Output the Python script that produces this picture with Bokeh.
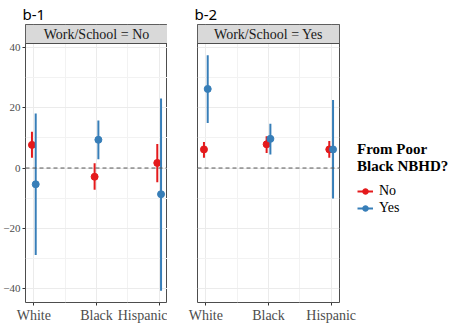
from bokeh.plotting import figure
from bokeh.models import FixedTicker, Span, Legend, LegendItem, Range1d
from bokeh.layouts import row
from bokeh.embed import file_html
from bokeh.resources import INLINE
from bokeh.core.properties import value

categories = ["White", "Black", "Hispanic"]
groups = ["No", "Yes"]
panel_labels = ["Work/School = No", "Work/School = Yes"]
panel_tags = ["b-1", "b-2"]
legend_title = "From Poor\nBlack NBHD?"

# Panel b-1 (Work/School = No)
b1_no_est = [7.7, -2.9, 1.7]
b1_no_lo = [3.4, -7.2, -4.7]
b1_no_hi = [12.1, 1.6, 8.0]
b1_yes_est = [-5.4, 9.4, -8.7]
b1_yes_lo = [-28.9, 2.9, -40.8]
b1_yes_hi = [18.1, 15.8, 23.1]
# Panel b-2 (Work/School = Yes)
b2_no_est = [6.2, 7.9, 6.2]
b2_no_lo = [3.4, 5.0, 3.4]
b2_no_hi = [8.7, 10.6, 9.0]
b2_yes_est = [26.3, 9.7, 6.2]
b2_yes_lo = [15.0, 4.5, -10.1]
b2_yes_hi = [37.5, 14.7, 22.6]

y_ticks = [-40, -20, 0, 20, 40]
y_minor = [-30, -10, 10, 30]

panels_data = [
    {"No": (b1_no_est, b1_no_lo, b1_no_hi), "Yes": (b1_yes_est, b1_yes_lo, b1_yes_hi)},
    {"No": (b2_no_est, b2_no_lo, b2_no_hi), "Yes": (b2_yes_est, b2_yes_lo, b2_yes_hi)},
]
colors = {"No": "#E41A1C", "Yes": "#377EB8"}
dodge = {"No": -0.03, "Yes": 0.03}

SERIF = "Liberation Serif"
FRAME_W = 142
FRAME_H = 278
STRIP_PX = 19

# ranges from data with 5% expansion
all_vals = []
for pdict in panels_data:
    for g in groups:
        for arr in pdict[g]:
            all_vals += arr
ylo, yhi = min(all_vals), max(all_vals)
ypad = 0.05 * (yhi - ylo)
panel_lo, panel_hi = ylo - ypad, yhi + ypad
units_per_px = (panel_hi - panel_lo) / (FRAME_H - STRIP_PX)
y_end = panel_hi + STRIP_PX * units_per_px

xlo, xhi = 1 + dodge["No"], len(categories) + dodge["Yes"]
xpad = 0.05 * (xhi - xlo)
x_start, x_end = xlo - xpad, xhi + xpad

figs = []
legend_items = []
for i, pdict in enumerate(panels_data):
    p = figure(frame_width=FRAME_W, frame_height=FRAME_H, output_backend="svg",
               toolbar_location=None,
               x_range=Range1d(x_start, x_end), y_range=Range1d(panel_lo, y_end),
               y_axis_location="left" if i == 0 else None,
               min_border_left=21 if i == 0 else 30, min_border_right=0,
               min_border_top=0, min_border_bottom=0)
    p.title.text = panel_tags[i]
    p.title.text_font = "Noto Sans"
    p.title.text_font_size = "15px"
    p.title.text_font_style = "normal"
    p.title.text_color = "#000000"
    p.title.offset = -3
    p.title.standoff = 2
    p.background_fill_color = "white"
    p.border_fill_color = "white"
    p.outline_line_color = "#4D4D4D"
    p.outline_line_width = 1

    p.xgrid.ticker = FixedTicker(ticks=[1, 2, 3], minor_ticks=[1.5, 2.5])
    p.ygrid.ticker = FixedTicker(ticks=y_ticks, minor_ticks=y_minor)
    for gr in (p.xgrid, p.ygrid):
        gr.grid_line_color = "#EBEBEB"
        gr.grid_line_width = 1
        gr.minor_grid_line_color = "#F2F2F2"
        gr.minor_grid_line_width = 1

    p.xaxis.ticker = FixedTicker(ticks=[1, 2, 3])
    p.xaxis.major_label_overrides = {k + 1: c for k, c in enumerate(categories)}
    axes = [p.xaxis[0]] + ([p.yaxis[0]] if i == 0 else [])
    for ax in axes:
        ax.axis_line_color = None
        ax.major_tick_line_color = "#333333"
        ax.major_tick_out = 3
        ax.major_tick_in = 0
        ax.minor_tick_line_color = None
        ax.major_label_text_font = SERIF
        ax.major_label_text_color = "#4D4D4D"
        ax.major_label_standoff = 2
    p.xaxis.major_label_text_font_size = "14px"
    if i == 0:
        p.yaxis.ticker = FixedTicker(ticks=y_ticks)
        p.yaxis.major_label_text_font_size = "11px"

    p.add_layout(Span(location=0, dimension="width", line_color="#555555",
                      line_width=1, line_dash="4 3"))

    for g in groups:
        est, lo, hi = pdict[g]
        xs = [k + 1 + dodge[g] for k in range(len(categories))]
        seg = p.segment(x0=xs, y0=lo, x1=xs, y1=hi, line_color=colors[g], line_width=2)
        sc = p.scatter(x=xs, y=est, size=7, color=colors[g])
        if i == 1:
            legend_items.append(LegendItem(label=g, renderers=[seg, sc]))

    # facet strip
    p.quad(left=[x_start], right=[x_end], bottom=[panel_hi], top=[y_end],
           fill_color="#D9D9D9", line_color="#4D4D4D", line_width=1)
    p.text(x=[(x_start + x_end) / 2], y=[(panel_hi + y_end) / 2], text=[panel_labels[i]],
           text_align="center", text_baseline="middle", text_font=value(SERIF),
           text_font_size="14px", text_font_style="normal", text_color="#1A1A1A")
    figs.append(p)

legend = Legend(items=legend_items, title=legend_title, location=(18, 86),
                title_text_font=SERIF, title_text_font_style="bold",
                title_text_font_size="15px", title_text_color="#000000",
                title_text_line_height=1.25,
                label_text_font=SERIF, label_text_font_size="14px",
                label_text_color="#000000",
                glyph_width=16, glyph_height=14, label_standoff=6, spacing=1,
                padding=0, margin=9, title_standoff=8,
                border_line_color=None, background_fill_alpha=0)
figs[1].add_layout(legend, "right")

layout = row(figs[0], figs[1], spacing=0)
open("out.html", "w").write(file_html(layout, INLINE))
